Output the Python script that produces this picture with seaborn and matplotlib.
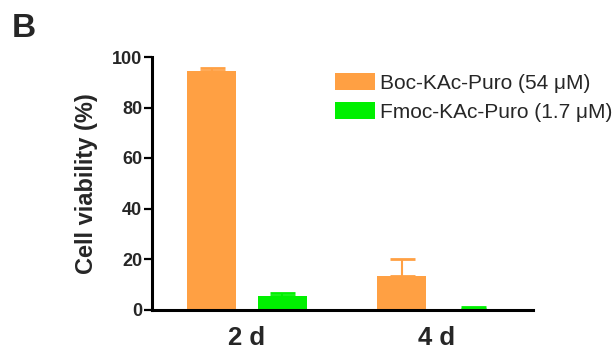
import matplotlib
matplotlib.use("Agg")
import matplotlib.pyplot as plt
import seaborn as sns
import pandas as pd
import numpy as np

# Viability data (mean and upper SD) for each compound and time point
days = ["2 d", "4 d"]
compounds = ["Boc-KAc-Puro (54 \u03bcM)", "Fmoc-KAc-Puro (1.7 \u03bcM)"]
boc_mean = [94.4, 13.4]
boc_sd = [1.4, 6.6]
fmoc_mean = [5.5, 0.3]
fmoc_sd = [1.2, 0.8]
colors = ["#FFA043", "#00F000"]

df = pd.DataFrame({
    "day": days * 2,
    "compound": [compounds[0]] * 2 + [compounds[1]] * 2,
    "viability": boc_mean + fmoc_mean,
})
sds = [boc_sd, fmoc_sd]

sns.set_theme(style="ticks")
plt.rcParams["font.family"] = ["Liberation Sans", "DejaVu Sans"]

fig = plt.figure(figsize=(6.15, 3.51), dpi=100)
ax = fig.add_axes([152 / 615, 1 - 309.5 / 351, (533 - 152) / 615, (309.5 - 57) / 351])

sns.barplot(data=df, x="day", y="viability", hue="compound", order=days,
            hue_order=compounds, palette=colors, width=0.747, gap=0.31,
            errorbar=None, linewidth=0, saturation=1, ax=ax, legend=False)

# one-sided (upper) error bars, drawn in the bar colour
for cont, sd, col in zip(ax.containers, sds, colors):
    xs = [p.get_x() + p.get_width() / 2 for p in cont.patches]
    ys = [p.get_height() for p in cont.patches]
    ax.errorbar(xs, ys, yerr=[np.zeros(len(sd)), sd], fmt="none",
                ecolor=col, elinewidth=1.5, capsize=9, capthick=2, zorder=1)

ax.set_xlim(-0.5, 1.505)
ax.set_ylim(0, 100)
ax.set_yticks([0, 20, 40, 60, 80, 100])
ax.set_xlabel("")
ax.set_ylabel("Cell viability (%)", fontsize=17, fontweight="bold", labelpad=10)
for s in ["top", "right"]:
    ax.spines[s].set_visible(False)
for s in ["left", "bottom"]:
    ax.spines[s].set_linewidth(2.2)
    ax.spines[s].set_color("black")
ax.tick_params(axis="y", length=6, width=1.6, labelsize=13, pad=1, color="black")
ax.tick_params(axis="x", length=0, labelsize=18.5, pad=12)
for lab in ax.get_yticklabels() + ax.get_xticklabels():
    lab.set_fontweight("bold")

handles = [matplotlib.patches.Patch(facecolor=c, edgecolor="none") for c in colors]
fig.legend(handles, compounds, loc="upper left", bbox_to_anchor=(335 / 615, 1 - 73 / 351),
           frameon=False, fontsize=15, handlelength=1.92, handleheight=0.9,
           handletextpad=0.25, labelspacing=0.45, borderpad=0, borderaxespad=0)

fig.text(12 / 615, 1 - 13 / 351, "B", fontsize=24, fontweight="bold", va="top", ha="left")

fig.savefig("out.png", dpi=100)
